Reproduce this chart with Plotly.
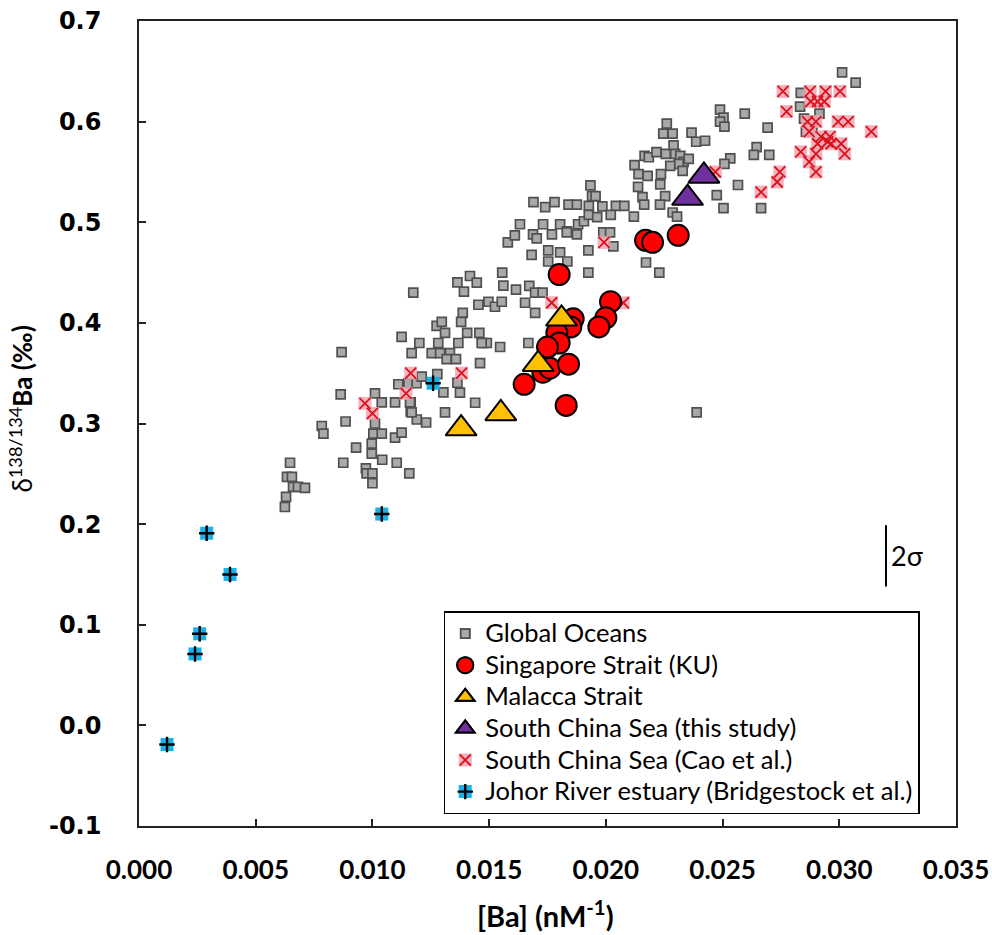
import plotly.graph_objects as go

# ---------------- data ----------------
global_x = [0.00625,0.0063,0.00647,0.00634,0.00655,0.0066,0.00681,0.00711,
            0.00783,0.0079,0.00868,0.00864,0.00885,0.0093,0.00875,0.00972,0.00975,0.0100,0.0100,
            0.00997,0.00997,0.01042,0.01011,0.01004,0.0104,0.01011,0.0104,0.01097,0.01097,0.01125,
            0.01104,0.01158,0.01164,0.01164,0.0119,0.0123,0.01111,0.01154,0.01189,0.01211,0.01278,
            0.01304,0.01311,0.01175,0.01125,0.01201,0.01168,0.01161,0.01168,
            0.01275,0.01297,0.01311,0.01406,0.01458,0.01475,0.0149,0.01547,0.01668,0.01254,0.01282,
            0.0129,0.01332,0.01318,0.01358,0.01368,0.01461,0.01468,0.01364,0.01375,0.0144,
            0.01364,0.01418,0.01447,0.01392,0.01454,0.01497,0.01525,0.01554,0.01387,0.0138,
            0.01556,0.01561,0.01615,0.01672,0.01654,0.01697,0.01729,0.01697,
            0.01632,0.01688,0.01731,0.01769,0.01804,0.01834,0.01876,0.01881,0.01906,0.01704,
            0.01682,0.01753,0.01804,0.01753,0.01835,0.01925,0.01925,0.01989,0.02018,0.02032,
            0.02172,0.02229,0.0158,0.0161,
            0.01934,0.01941,0.01956,0.0184,0.01876,0.01927,0.01985,0.02043,0.02079,0.01927,
            0.01963,0.02021,0.0212,0.01833,0.0169,0.0174,0.0178,
            0.02166,0.02184,0.02217,0.02257,0.0229,0.02297,0.02319,0.02333,0.02355,0.02312,
            0.02329,0.02276,0.02123,0.0214,0.02179,0.02236,0.02233,0.02138,0.02157,0.02164,
            0.02254,0.02232,0.02286,0.02305,
            0.02261,0.02246,0.02286,0.02367,0.02387,0.02425,
            0.02533,0.02508,0.02566,0.02475,0.02504,0.02665,0.02646,0.02634,0.027,0.02693,
            0.02489,0.02504,0.02489,0.02508,0.02595,
            0.03012,0.0307,0.02835,0.02832,0.02849,0.02915,0.02885,0.02857,
            0.02389]
global_y = [0.217,0.227,0.261,0.247,0.247,0.237,0.237,0.236,
            0.2975,0.290,0.371,0.329,0.302,0.276,0.261,0.2555,0.2505,0.2505,0.2406,
            0.280,0.270,0.264,0.300,0.290,0.290,0.330,0.321,0.321,0.286,0.291,
            0.261,0.2505,0.321,0.312,0.304,0.301,0.339,0.340,0.340,0.3465,0.349,
            0.331,0.311,0.430,0.386,0.380,0.370,0.321,0.311,
            0.397,0.401,0.390,0.390,0.390,0.380,0.380,0.376,0.380,0.370,0.380,
            0.370,0.370,0.364,0.364,0.380,0.360,0.380,0.3405,0.3306,0.3206,
            0.4403,0.4466,0.440,0.431,0.418,0.421,0.416,0.421,0.410,0.401,
            0.450,0.437,0.433,0.4367,0.420,0.430,0.430,0.410,
            0.498,0.488,0.498,0.488,0.498,0.491,0.488,0.498,0.501,0.484,
            0.4675,0.472,0.470,0.461,0.461,0.472,0.450,0.490,0.490,0.476,
            0.460,0.450,0.480,0.487,
            0.5366,0.526,0.526,0.5175,0.5175,0.5163,0.5157,0.5163,0.5163,0.5073,
            0.505,0.5073,0.5056,0.490,0.520,0.515,0.520,
            0.566,0.5646,0.5696,0.568,0.5764,0.568,0.566,0.560,0.563,0.558,
            0.551,0.556,0.5568,0.5478,0.546,0.5478,0.5376,0.5352,0.525,0.5175,
            0.526,0.5175,0.5097,0.5056,
            0.598,0.588,0.588,0.589,0.580,0.581,
            0.5635,0.558,0.537,0.527,0.514,0.514,0.5747,0.567,0.567,0.594,
            0.612,0.604,0.600,0.595,0.608,
            0.649,0.6387,0.6285,0.615,0.603,0.608,0.593,0.590,
            0.311]

singapore_x = [0.0180,0.0217,0.0220,0.0231,0.0202,0.0200,0.0197,0.0186,0.0185,0.0179,
               0.0180,0.0175,0.0173,0.0176,0.0184,0.0165,0.0183]
singapore_y = [0.448,0.482,0.480,0.487,0.421,0.405,0.396,0.404,0.396,0.390,
               0.380,0.376,0.351,0.355,0.359,0.339,0.318]

malacca_x = [0.0181,0.0171,0.0155,0.0138]
malacca_y = [0.404,0.359,0.310,0.295]

scs_x = [0.0242,0.0235]
scs_y = [0.546,0.524]

cao_x = [0.00968,0.0100,0.01144,0.01164,0.01382,0.01768,0.02075,0.01992,0.02469,0.02665,
         0.02734,0.02745,0.02759,0.02774,0.02835,0.02871,0.02900,0.02875,0.02941,0.03003,
         0.02878,0.02907,0.02936,0.02864,0.02900,0.02995,0.03038,0.03137,0.02871,0.02922,
         0.02950,0.02960,0.02907,0.02965,0.03008,0.03023,0.02900]
cao_y = [0.320,0.310,0.330,0.350,0.350,0.420,0.420,0.480,0.550,0.530,
         0.540,0.550,0.630,0.610,0.570,0.560,0.550,0.630,0.630,0.630,
         0.620,0.620,0.620,0.600,0.600,0.600,0.600,0.590,0.590,0.585,
         0.580,0.585,0.578,0.578,0.578,0.568,0.568]

johor_x = [0.0012,0.0024,0.0026,0.0029,0.0039,0.0104,0.0126]
johor_y = [-0.019,0.071,0.091,0.191,0.150,0.210,0.340]

x_tickvals = [0.000,0.005,0.010,0.015,0.020,0.025,0.030,0.035]
x_ticktext = ["0.000","0.005","0.010","0.015","0.020","0.025","0.030","0.035"]
y_tickvals = [-0.1,0.0,0.1,0.2,0.3,0.4,0.5,0.6,0.7]
y_ticktext = ["-0.1","0.0","0.1","0.2","0.3","0.4","0.5","0.6","0.7"]

sigma_x = 0.0320
sigma_y = [0.138,0.199]

names = ["Global Oceans","Singapore Strait (KU)","Malacca Strait",
         "South China Sea (this study)","South China Sea (Cao et al.)",
         "Johor River estuary (Bridgestock et al.)"]

# ---------------- styles ----------------
GRAY = dict(symbol="square", size=9, color="#A9A9A9", line=dict(color="#505050", width=1.7))
RED = dict(symbol="circle", size=21, color="#FF0000", line=dict(color="black", width=2))
GOLD = dict(symbol="triangle-up", size=27, color="#FFC000", line=dict(color="black", width=2))
PURPLE = dict(symbol="triangle-up", size=27, color="#7030A0", line=dict(color="black", width=2))
PINK = dict(symbol="square", size=13, color="rgba(245,165,178,0.85)", line=dict(width=0))
REDX = dict(symbol="x-thin-open", size=11, color="#D9131E", line=dict(color="#D9131E", width=1.8))
BLUE = dict(symbol="square", size=13, color="#1AB0E8", line=dict(width=0))
BLKCROSS = dict(symbol="cross-thin-open", size=11, color="black", line=dict(color="black", width=2.4))

LEG_TEXT_SIZE = 25.5


def legname(s):
    return '<span style="font-size:%spx">%s</span>' % (LEG_TEXT_SIZE, s)


fig = go.Figure()


def add(x, y, marker, name, rank, legend="legend", show=True):
    fig.add_trace(go.Scatter(x=x, y=y, mode="markers", marker=marker, name=legname(name),
                             legendrank=rank, legend=legend, showlegend=show,
                             hoverinfo="x+y"))


# data traces (drawing order)
add(global_x, global_y, GRAY, names[0], 1)
add(cao_x, cao_y, PINK, names[4], 5)
add(cao_x, cao_y, REDX, names[4], 5, legend="legend2")
add(johor_x, johor_y, BLUE, names[5], 6)
add(johor_x, johor_y, BLKCROSS, names[5], 6, legend="legend2")
add(singapore_x, singapore_y, RED, names[1], 2)
add(malacca_x, malacca_y, GOLD, names[2], 3)
add(scs_x, scs_y, PURPLE, names[3], 4)
# legend2 placeholders so the overlay rows line up with the main legend
for i, m in enumerate([GRAY, RED, GOLD, PURPLE]):
    add([None], [None], m, names[i], i + 1, legend="legend2")

# 2 sigma bar
fig.add_shape(type="line", xref="x", yref="y", x0=sigma_x, x1=sigma_x,
              y0=sigma_y[0], y1=sigma_y[1], line=dict(color="black", width=2))
fig.add_annotation(x=sigma_x, y=sum(sigma_y) / 2, xref="x", yref="y", text="2σ",
                   showarrow=False, xanchor="left", yanchor="middle", xshift=3,
                   font=dict(family="Lato", size=27, color="black"))

# axis titles as annotations
fig.add_annotation(x=-0.145, y=0.518, xref="paper", yref="paper",
                   text="δ<sup>138/134</sup><b>Ba (‰)</b>", textangle=-90,
                   showarrow=False, xanchor="center", yanchor="middle",
                   font=dict(family="Lato", size=26, color="black"))
fig.add_annotation(x=0.497, y=-0.109, xref="paper", yref="paper",
                   text="<b>[Ba] (nM<sup>-1</sup>)</b>",
                   showarrow=False, xanchor="center", yanchor="middle",
                   font=dict(family="Lato", size=29, color="black"))

legend_common = dict(x=0.373, y=0.2667, xanchor="left", yanchor="top",
                     borderwidth=1.5, traceorder="normal", tracegroupgap=0,
                     itemclick=False, itemdoubleclick=False)
LEG_FONT = dict(family="Lato", size=22)
fig.update_layout(
    width=992, height=935,
    margin=dict(l=139, r=36, t=21, b=109),
    paper_bgcolor="white", plot_bgcolor="white",
    legend=dict(**legend_common, bgcolor="white", bordercolor="black",
                font=dict(**LEG_FONT, color="black")),
    legend2=dict(**legend_common, bgcolor="rgba(0,0,0,0)", bordercolor="rgba(0,0,0,0)",
                 font=dict(**LEG_FONT, color="rgba(0,0,0,0)")),
    xaxis=dict(range=[0, 0.035], tickvals=x_tickvals, ticktext=x_ticktext,
               ticks="inside", ticklen=7, tickwidth=1.5, tickcolor="#222",
               showline=True, linecolor="#222", linewidth=1.5, mirror=True,
               showgrid=False, zeroline=False, ticklabelstandoff=20, automargin=False,
               tickfont=dict(family="Lato", size=26, color="black", weight="bold")),
    yaxis=dict(range=[-0.1, 0.7], tickvals=y_tickvals, ticktext=y_ticktext,
               ticks="inside", ticklen=7, tickwidth=1.5, tickcolor="#222",
               showline=True, linecolor="#222", linewidth=1.5, mirror=True,
               showgrid=False, zeroline=False, ticklabelstandoff=31, automargin=False,
               tickfont=dict(family="DejaVu Sans", size=24, color="black", weight="bold")),
    showlegend=True,
)

fig.write_html("out.html", config={"displayModeBar": False},
               post_script="document.body.style.margin='0';document.body.style.overflow='hidden';")
